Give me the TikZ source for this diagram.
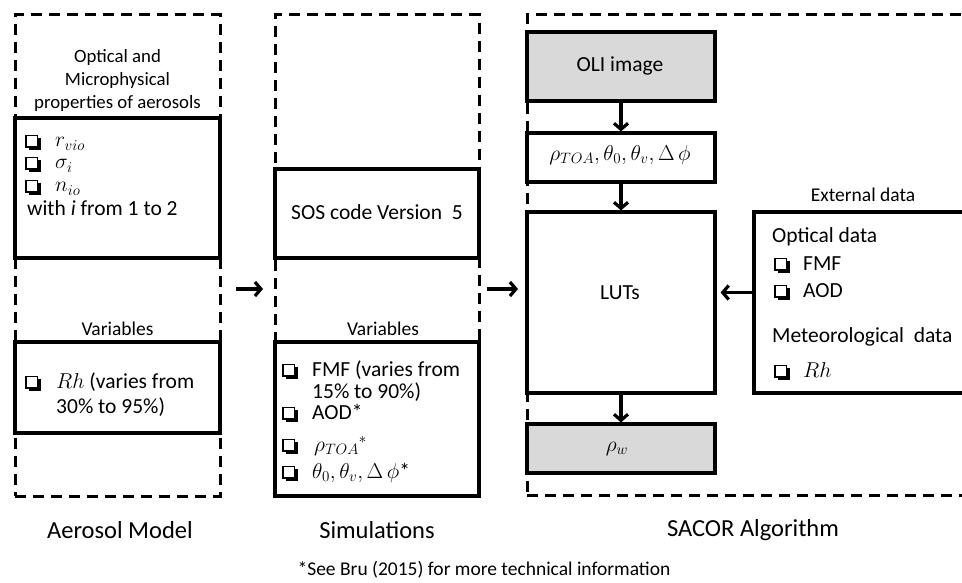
\RequirePackage{fix-cm}
\documentclass[tikz,border=0pt]{standalone}
\usepackage{fontspec}
\setmainfont{Carlito}
\usetikzlibrary{arrows.meta}
\definecolor{boxgray}{HTML}{D9D9D9}
\tikzset{
  frame/.style={draw, dash pattern=on 11pt off 7pt, line width=3pt, inner sep=0pt},
  box/.style={draw, line width=3.2pt, fill=white, inner sep=0pt},
  greybox/.style={box, fill=boxgray},
  arr/.style={line width=3.2pt, -{Straight Barb[length=6pt,width=14pt]}},
  body/.style={font=\fontsize{21.5}{23}\selectfont, inner sep=0pt},
  item/.style={body, anchor=west, text height=15pt, text depth=5pt},
  lab/.style={font=\fontsize{19.5}{23}\selectfont, inner sep=0pt},
  ttl/.style={font=\fontsize{24.5}{26}\selectfont, inner sep=0pt},
  % shadowed check box bullet
  chkbox/.pic={
    \draw[line width=1.1pt] (-7,-6.5) rectangle (4.5,5);
    \fill (4.5,-4) rectangle (7.5,8);
    \fill (-4.5,5) rectangle (7.5,8);
  }
}
\begin{document}
\begin{tikzpicture}[x=1pt,y=-1pt]
\useasboundingbox (0,0) rectangle (962,583);
\clip (0,0) rectangle (962,583);

% dashed column frames
\node[frame, minimum width=205pt, minimum height=481pt] (frameA) at (117.5,255.5) {};
\node[frame, minimum width=204pt, minimum height=481pt] (frameB) at (377,255.5) {};
\node[frame, minimum width=463pt, minimum height=480pt] (frameC) at (758.5,255) {};

% Aerosol model column
\node[lab, align=center, font=\fontsize{18.8}{23}\selectfont] (opthead) at (117.5,80) {Optical and\\Microphysical\\properties of aerosols};
\node[box, minimum width=205pt, minimum height=140pt] (opt) at (117.5,188) {};
\pic at (33,142) {chkbox};
\node[item] (t1) at (55,142) {$r_{vio}$};
\pic at (33,164) {chkbox};
\node[item] (t2) at (55,164) {$\sigma_i$};
\pic at (33,187) {chkbox};
\node[item] (t3) at (55,187) {$n_{io}$};
\node[item] (t4) at (27,210) {with \textit{i} from 1 to 2};

\node[lab] (varA) at (117.5,329) {Variables};
\node[box, minimum width=205pt, minimum height=91pt] (var1) at (117.5,387.5) {};
\pic at (33,383) {chkbox};
\node[item] (t5) at (56,383) {$Rh$ (varies from};
\node[item] (t6) at (56,408) {30\% to 95\%)};

% Simulations column
\node[box, minimum width=204pt, minimum height=89pt] (sos) at (377,213.5) {};
\node[body] (sostext) at (377,212) {SOS code Version~ 5};
\node[lab] (varB) at (383,329) {Variables};
\node[box, minimum width=204pt, minimum height=154pt] (var2) at (377,419) {};
\pic at (290,371) {chkbox};
\node[item] (t7) at (312,371) {FMF (varies from};
\node[item] (t8) at (312,393) {15\% to 90\%)};
\pic at (290,414) {chkbox};
\node[item] (t9) at (312,414) {AOD*};
\pic at (290,446) {chkbox};
\node[item] (t10) at (314,446) {$\rho_{TOA}{}^{*}$};
\pic at (290,473) {chkbox};
\node[item] (t11) at (312,473) {$\theta_0,\theta_v,\Delta\,\phi$*};

% SACOR column
\node[greybox, minimum width=188pt, minimum height=69pt] (oli) at (621,66.5) {};
\node[body] (olitext) at (620,66) {OLI image};
\node[box, minimum width=188pt, minimum height=49pt] (toa) at (621,157.5) {};
\node[body] (toatext) at (620,155) {$\rho_{TOA},\theta_0,\theta_v,\Delta\,\phi$};
\node[box, minimum width=188pt, minimum height=181pt] (luts) at (621,302.5) {};
\node[body] (lutstext) at (620,293) {LUTs};
\node[greybox, minimum width=188pt, minimum height=49pt] (rhow) at (621,448.5) {};
\node[body] (rhowtext) at (617,449) {$\rho_w$};

% external data
\node[lab] (exthead) at (863,195) {External data};
\node[box, minimum width=246pt, minimum height=181pt] (ext) at (877,302.5) {};
\node[item] (e1) at (772,237) {Optical data};
\pic at (782,265) {chkbox};
\node[item] (e2) at (803,265) {FMF};
\pic at (782,292) {chkbox};
\node[item] (e3) at (803,292) {AOD};
\node[item] (e4) at (772,337) {Meteorological~ data};
\pic at (782,372) {chkbox};
\node[item] (e5) at (803,372) {$Rh$};

% flow arrows
\draw[arr] (oli.south) -- (toa.north);
\draw[arr] (toa.south) -- (luts.north);
\draw[arr] (luts.south) -- (rhow.north);
\draw[arr, shorten >=4pt] ([yshift=10pt]ext.west) -- ([yshift=10pt]luts.east);
\coordinate (ab1) at (236,289);
\coordinate (ab2) at (263,289);
\coordinate (bc1) at (487,289);
\coordinate (bc2) at (518,289);
\draw[arr] (ab1) -- (ab2);
\draw[arr] (bc1) -- (bc2);

% column titles and note
\node[ttl] (ttlA) at (120,530) {Aerosol Model};
\node[ttl] (ttlB) at (377,530) {Simulations};
\node[ttl] (ttlC) at (753,530) {SACOR Algorithm};
\node[lab] (note) at (484,570) {*See Bru (2015) for more technical information};
\end{tikzpicture}
\end{document}
